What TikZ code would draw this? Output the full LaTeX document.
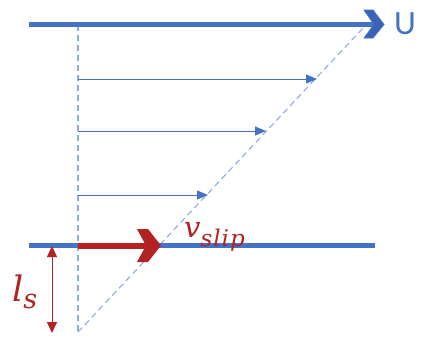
\documentclass[tikz,border=0pt]{standalone}
\usepackage{fontspec}
\newfontfamily\calib{Carlito}
\newfontfamily\serit{DejaVu Serif}
\usetikzlibrary{arrows.meta}
\definecolor{oblue}{HTML}{4472C4}
\definecolor{dblue}{HTML}{3A62B8}
\definecolor{lblue}{HTML}{8FAADC}
\definecolor{ored}{HTML}{B22222}
\tikzset{
  wall/.style={oblue, line width=5pt},
  guide/.style={lblue, line width=1.1pt, dash pattern=on 6pt off 4pt},
  vel/.style={oblue, line width=0.9pt, -{Triangle[length=11pt,width=9pt]}},
  lenarrow/.style={ored, line width=0.8pt, {Triangle[length=11pt,width=10pt]}-{Triangle[length=11pt,width=10pt]}},
  redlabel/.style={text=ored, inner sep=0pt, anchor=base west, font=\serit\itshape},
}
\begin{document}
\begin{tikzpicture}[x=1pt,y=-1pt]
\useasboundingbox (0,0) rectangle (423,341);
% coordinates
\coordinate (tl) at (29,24.5);
\coordinate (tr) at (374,24.5);
\coordinate (bl) at (29,245.5);
\coordinate (br) at (375,245.5);
\coordinate (vtop) at (78,24.5);
\coordinate (vbot) at (78,332);
\coordinate (dtop) at (364,27);
\coordinate (a1s) at (78,79);  \coordinate (a1e) at (317,79);
\coordinate (a2s) at (78,131); \coordinate (a2e) at (266,131);
\coordinate (a3s) at (78,195); \coordinate (a3e) at (208,195);
\coordinate (rs) at (78,245.5); \coordinate (re) at (147,245.5);
\coordinate (lt) at (52,246); \coordinate (lb) at (52,333);
% guides
\draw[guide] (vtop) -- (vbot);
\draw[guide] (vbot) -- (dtop);
% walls
\draw[wall] (tl) -- (tr);
\draw[wall] (bl) -- (br);
% top chevron head
\fill[dblue, draw=oblue, line width=0.8pt] (364,10) -- (373,10) -- (384,24.5) -- (373,38) -- (364,38) -- (374,24.5) -- cycle;
% velocity arrows
\draw[vel] (a1s) -- (a1e);
\draw[vel] (a2s) -- (a2e);
\draw[vel] (a3s) -- (a3e);
% slip arrow
\draw[ored, line width=6pt] (rs) -- (re);
\fill[ored] (137,229) -- (148,229) -- (161,245.5) -- (148,262) -- (137,262) -- (146,245.5) -- cycle;
% length arrow
\draw[lenarrow] (lt) -- (lb);
% labels
\node[text=oblue, font=\calib\fontsize{34}{34}\selectfont, inner sep=0pt] (U) at (405,24) {U};
\node[redlabel] (vs) at (184,237) {\fontsize{29}{29}\selectfont v\raisebox{-9pt}{\fontsize{23}{23}\selectfont s\kern1pt l\kern1pt i\kern1pt p}};
\node[redlabel] (ls) at (12,301) {\fontsize{35}{35}\selectfont l\raisebox{-7pt}{\fontsize{27}{27}\selectfont s}};
\end{tikzpicture}
\end{document}
